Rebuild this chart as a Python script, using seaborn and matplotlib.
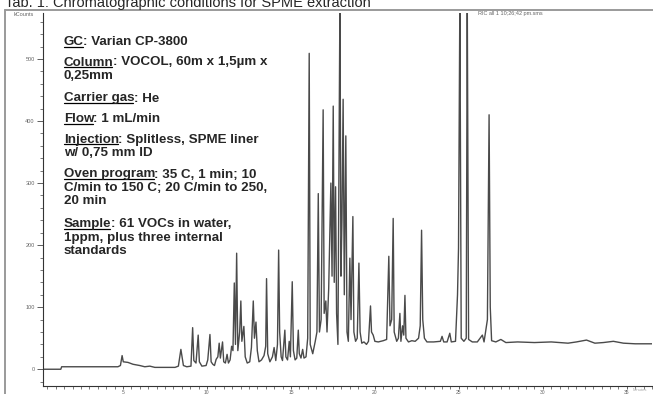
import matplotlib
matplotlib.use("Agg")
import matplotlib.pyplot as plt
import matplotlib.ticker as mticker
from matplotlib.lines import Line2D
import seaborn as sns
import pandas as pd

# chromatogram trace: retention time (min) and signal (kCounts)
rt_min = [
    0.2, 1.3, 1.35, 4.7, 4.85, 4.95, 5.02, 5.3, 5.6, 6.0, 6.3, 6.6, 6.9, 7.5, 8.1,
    8.3, 8.45, 8.52, 8.6, 8.8, 9.05, 9.15, 9.22, 9.35, 9.48, 9.55, 9.7, 9.95, 10.05,
    10.18, 10.25, 10.35, 10.45, 10.55, 10.65, 10.73, 10.8, 10.93, 11.0, 11.1, 11.2,
    11.28, 11.38, 11.47, 11.55, 11.63, 11.7, 11.77, 11.84, 11.95, 12.02, 12.08, 12.2,
    12.28, 12.4, 12.55, 12.65, 12.76, 12.83, 12.92, 13.0, 13.1, 13.25, 13.4, 13.5,
    13.55, 13.62, 13.75, 13.9, 14.0, 14.1, 14.2, 14.27, 14.33, 14.42, 14.5, 14.64,
    14.7, 14.8, 14.9, 14.97, 15.08, 15.15, 15.25, 15.35, 15.44, 15.5, 15.6, 15.7,
    15.78, 15.9, 16.0, 16.09, 16.15, 16.3, 16.45, 16.55, 16.63, 16.7, 16.8, 16.92,
    16.98, 17.08, 17.15, 17.25, 17.38, 17.45, 17.52, 17.58, 17.66, 17.72, 17.8,
    17.92, 17.98, 18.04, 18.11, 18.18, 18.27, 18.34, 18.42, 18.51, 18.58, 18.69,
    18.75, 18.85, 18.95, 19.05, 19.12, 19.22, 19.35, 19.5, 19.62, 19.74, 19.8, 19.9,
    20.0, 20.2, 20.5, 20.7, 20.83, 20.9, 21.0, 21.09, 21.15, 21.3, 21.4, 21.49,
    21.55, 21.65, 21.72, 21.79, 21.85, 22.0, 22.2, 22.4, 22.6, 22.7, 22.78, 22.85,
    22.95, 23.1, 23.5, 23.9, 24.0, 24.1, 24.3, 24.46, 24.55, 24.8, 24.92, 24.98,
    25.06, 25.14, 25.3, 25.44, 25.5, 25.58, 25.8, 26.1, 26.4, 26.5, 26.7, 26.8,
    26.87, 26.95, 27.2, 27.5, 27.8, 28.5, 29.5, 30.5, 31.5, 32.0, 32.6, 33.1, 33.6,
    34.2, 34.8, 35.5, 36.5,
]
kcounts = [
    0, 0, 4, 4, 6, 22, 12, 11, 8, 6, 4, 5, 3, 3, 3,
    5, 32, 20, 6, 4, 5, 67, 14, 10, 55, 12, 5, 6, 15,
    56, 12, 8, 6, 16, 20, 42, 18, 44, 12, 10, 24,
    10, 15, 37, 30, 139, 40, 187, 30, 60, 110, 45, 69,
    20, 10, 12, 35, 110, 50, 76, 30, 12, 15, 22, 37,
    146, 25, 12, 20, 35, 14, 40, 192, 60, 20, 14, 63,
    20, 15, 45, 20, 141, 30, 15, 18, 63, 25, 18, 32,
    18, 20, 50, 509, 40, 25, 45, 60, 283, 60, 80, 418,
    90, 110, 60, 130, 300, 150, 424, 140, 294, 90, 40,
    600, 150, 240, 435, 120, 376, 60, 45, 179, 80, 246,
    60, 45, 50, 171, 60, 42, 44, 40, 45, 102, 60, 55,
    45, 44, 46, 48, 182, 70, 80, 243, 60, 45, 50, 90,
    45, 70, 55, 119, 50, 44, 46, 45, 50, 70, 224, 80,
    50, 44, 44, 45, 53, 44, 44, 58, 44, 45, 120, 195,
    600, 50, 45, 50, 600, 48, 44, 44, 55, 44, 80, 410,
    100, 46, 44, 48, 43, 44, 43, 44, 42, 44, 47, 42, 43,
    45, 42, 41, 41,
]

y_ticks = [0, 100, 200, 300, 400, 500]
x_ticks = [5, 10, 15, 20, 25, 30, 35]

title = "Tab. 1: Chromatographic conditions for SPME extraction"
# (underlined label, rest of first line, following lines)
conditions = [
    ("GC", ": Varian CP-3800", []),
    ("Column", ": VOCOL, 60m x 1,5µm x", ["0,25mm"]),
    ("Carrier gas", ": He", []),
    ("Flow", ": 1 mL/min", []),
    ("Injection", ": Splitless, SPME liner", ["w/ 0,75 mm ID"]),
    ("Oven program", ": 35 C, 1 min; 10", ["C/min to 150 C; 20 C/min to 250,", "20 min"]),
    ("Sample", ": 61 VOCs in water,", ["1ppm, plus three internal", "standards"]),
]
# baselines of the text lines, in pixels from the top
line_baselines = [[45], [65.5, 79], [101.5], [122], [142.5, 155.5],
                  [177.5, 191, 204.5], [227, 240.5, 254]]

W, H = 653, 394
sns.set_style("ticks")
plt.rcParams["font.family"] = ["Liberation Sans", "DejaVu Sans"]

fig = plt.figure(figsize=(W / 100, H / 100), dpi=100)
ax = fig.add_axes([43 / W, 1 - 386 / H, (652 - 43) / W, (386 - 13) / H])

df = pd.DataFrame({"rt": rt_min, "kcounts": kcounts})
sns.lineplot(data=df, x="rt", y="kcounts", ax=ax, estimator=None, sort=False,
             color="#4a4a4a", linewidth=1.0)

ax.set_xlim(0.24, 36.5)
ax.set_ylim(-27, 574)
ax.set_xlabel("")
ax.set_ylabel("")
sns.despine(ax=ax)
for side in ["left", "bottom"]:
    ax.spines[side].set_linewidth(0.8)
    ax.spines[side].set_color("#333333")

ax.set_xticks(x_ticks)
ax.set_yticks(y_ticks)
ax.xaxis.set_minor_locator(mticker.MultipleLocator(0.5))
ax.yaxis.set_minor_locator(mticker.MultipleLocator(20))
ax.tick_params(which="major", length=4.5, width=0.6, color="#444444",
               labelsize=4, labelcolor="#666666", pad=1.5)
ax.tick_params(axis="x", which="major", length=2.5, pad=0.1, labelsize=3.6)
ax.tick_params(which="minor", length=2.0, width=0.5, color="#444444")

# header texts of the instrument printout
fig.text(14 / W, 1 - 15 / H, "kCounts", fontsize=4, color="#666666", va="center")
fig.text(478 / W, 1 - 13 / H, "RIC all 1 10;26;42 pm.sms", fontsize=4,
         color="#666666", va="center")
fig.text(633 / W, 1 - 390 / H, "Minutes", fontsize=3, color="#aaaaaa", va="center")

# outer frame of the slide
fig.add_artist(Line2D([5 / W, 5 / W], [0, 1 - 10 / H], transform=fig.transFigure,
                      color="#9a9a9a", linewidth=1.4))
fig.add_artist(Line2D([5 / W, 1], [1 - 10 / H, 1 - 10 / H], transform=fig.transFigure,
                      color="#9a9a9a", linewidth=1.4))

fig.text(5 / W, 1 - 7.5 / H, title, fontsize=10.5, va="baseline", ha="left")

# conditions block
fs = 9.6
x0 = 64
labels = []
for (lab, rest, more), ys in zip(conditions, line_baselines):
    t = fig.text(x0 / W, 1 - ys[0] / H, lab, fontsize=fs, fontweight="bold",
                 va="baseline", ha="left")
    labels.append((t, rest, ys[0]))
    for line, yb in zip(more, ys[1:]):
        fig.text(x0 / W, 1 - yb / H, line, fontsize=fs, fontweight="bold",
                 va="baseline", ha="left")

fig.canvas.draw()
renderer = fig.canvas.get_renderer()
for t, rest, yb in labels:
    bb = t.get_window_extent(renderer)
    fig.text((bb.x1 - 1) / W, 1 - yb / H, rest, fontsize=fs, fontweight="bold",
             va="baseline", ha="left")
    uy = 1 - (yb + 1.8) / H
    fig.add_artist(Line2D([bb.x0 / W, (bb.x1 - 1.5) / W], [uy, uy],
                          transform=fig.transFigure, color="black", linewidth=0.9))

fig.savefig("out.png", dpi=100)
